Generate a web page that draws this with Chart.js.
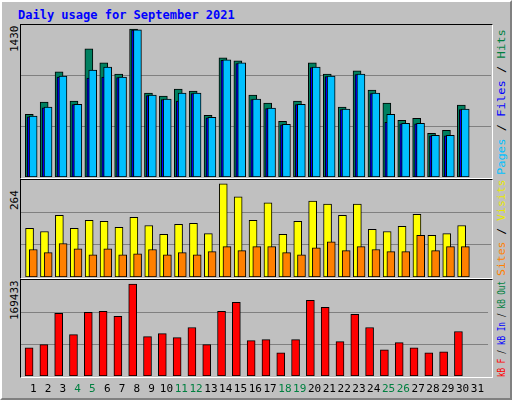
<!DOCTYPE html>
<html>
<head>
<meta charset="utf-8">
<script src="https://cdn.jsdelivr.net/npm/chart.js@4"></script>
<style>
  body { margin:0; background:#fff; }
  #frame { position:absolute; left:0; top:0; width:508px; height:396px; background:#c0c0c0;
    border-left:2px solid #fff; border-top:2px solid #fff; border-right:2px solid #808080; border-bottom:2px solid #808080; }
  .txt { position:absolute; font-family:"DejaVu Sans Mono", monospace; font-size:11px; white-space:nowrap; }
  .rot { transform-origin:0 0; transform:rotate(-90deg); }
  .panel { position:absolute; left:20px; width:471px; border-top:1px solid #000; border-left:1px solid #000;
    border-right:1px solid #fff; border-bottom:1px solid #fff; }
  canvas { position:absolute; }
</style>
</head>
<body>
<div id="frame"></div>
<div class="txt" style="left:18px;top:8px;color:#0000ff;font-weight:bold;font-size:12px">Daily usage for September 2021</div>

<div class="panel" style="top:24px;height:153px"></div>
<div class="panel" style="top:179px;height:98px"></div>
<div class="panel" style="top:279px;height:97px"></div>

<div class="txt rot" style="left:8px;top:52px">1430</div>
<div class="txt rot" style="left:8px;top:210px">264</div>
<div class="txt rot" style="left:8px;top:320px">169433</div>

<div class="txt rot" style="left:495px;top:175px;transform:rotate(-90deg) scaleX(1.1)"><span style="color:#00c0ff">Pages</span> / <span style="color:#0000ff">Files</span> / <span style="color:#008040">Hits</span></div>
<div class="txt rot" style="left:495px;top:276px;transform:rotate(-90deg) scaleX(1.04)"><span style="color:#ff8000">Sites</span> / <span style="color:#e8e800">Visits</span></div>
<div class="txt rot" style="left:495px;top:377px;transform:rotate(-90deg) scaleX(0.69)"><span style="color:#ff0000">kB F</span> / <span style="color:#0000ff">kB In</span> / <span style="color:#008040">kB Out</span></div>

<canvas id="c1" style="left:21px;top:25px"></canvas>
<canvas id="c2" style="left:21px;top:180px"></canvas>
<canvas id="c3" style="left:21px;top:280px"></canvas>

<script>
const days = [1,2,3,4,5,6,7,8,9,10,11,12,13,14,15,16,17,18,19,20,21,22,23,24,25,26,27,28,29,30];
const dayLabels = ['1','2','3','4','5','6','7','8','9','10','11','12','13','14','15','16','17','18','19','20','21','22','23','24','25','26','27','28','29','30','31'];
const weekendDays = [4,5,11,12,18,19,25,26];

const hits  = [607,724,1016,734,1240,1103,996,1430,811,782,850,831,597,1152,1123,792,714,539,734,1103,996,675,1026,841,714,549,568,422,451,695];
const files = [583,670,967,700,957,967,962,1420,787,748,734,806,573,1128,1098,748,661,505,700,1059,972,651,991,806,529,515,515,398,398,651];
const pages = [588,675,977,704,1035,1064,967,1424,792,753,811,811,578,1133,1103,753,666,510,704,1064,977,656,996,811,607,520,520,403,403,656];

const visits = [138,129,175,138,161,158,141,169,146,121,149,152,123,264,227,161,210,121,158,215,207,175,207,135,129,144,178,118,123,146];
const sites  = [78,69,95,80,63,80,63,66,78,63,69,63,72,86,75,86,86,69,63,83,100,75,86,78,72,72,118,75,86,86];

const kbF = [52130,57716,115432,76334,117293,119155,109846,169433,72610,78196,70748,89366,57716,119155,135911,65163,67025,42821,67025,139635,126602,63301,113570,89366,48407,61439,52130,42821,44683,81919];

const W = 470;
function series(vals, shift, color, thick) {
  return {
    data: vals.map((v, i) => ({ x: days[i] + shift, y: v })),
    backgroundColor: color, borderColor: '#000', borderWidth: 1, borderSkipped: false,
    barThickness: thick, grouped: false
  };
}

function makeChart(id, h, datasets, ymax, showX) {
  const cv = document.getElementById(id);
  cv.width = W; cv.height = h;
  cv.style.width = W + 'px'; cv.style.height = h + 'px';
  return new Chart(cv, {
    type: 'bar',
    data: { datasets: datasets },
    options: {
      responsive: false, animation: false,
      layout: { padding: 0 },
      plugins: { legend: { display: false }, tooltip: { enabled: false } },
      scales: {
        x: {
          type: 'linear', min: 0.175, max: 31.72, offset: false,
          display: showX,
          grid: { display: false, drawTicks: false },
          border: { display: false },
          afterFit: s => { s.height = showX ? 20 : 0; },
          ticks: {
            stepSize: 1, autoSkip: false, maxRotation: 0, padding: 7,
            font: { family: 'DejaVu Sans Mono', size: 11 },
            color: c => weekendDays.includes(c.tick.value) ? '#008040' : '#000',
            callback: v => dayLabels[v - 1] || ''
          },
          afterBuildTicks: s => { s.ticks = dayLabels.map((l, i) => ({ value: i + 1 })); }
        },
        y: {
          min: 0, max: ymax, display: true,
          afterFit: s => { s.width = 0; },
          ticks: { display: false, stepSize: ymax / 3 },
          grid: { color: '#808080', drawTicks: false, lineWidth: c => (c.tick.value > 0 && c.tick.value < ymax - 1) ? 1 : 0 },
          border: { display: false }
        }
      }
    }
  });
}

makeChart('c1', 152, [
  series(pages, -0.01, '#00c0ff', 8),
  series(files, -0.14, '#0000ff', 8),
  series(hits, -0.27, '#008060', 8)
], 1470, false);

makeChart('c2', 97, [
  series(sites, 0.0, '#ff8000', 8),
  series(visits, -0.25, '#ffff00', 8)
], 275, false);

makeChart('c3', 116, [
  series(kbF, -0.28, '#ff0000', 8)
], 176880, true);
</script>
</body>
</html>
